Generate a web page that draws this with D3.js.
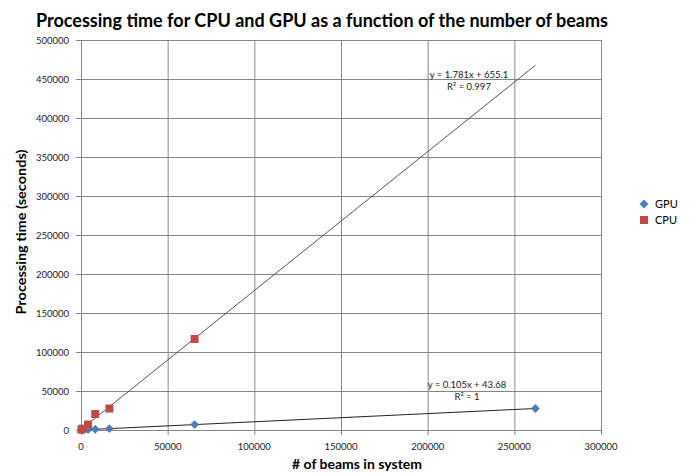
<!DOCTYPE html>
<html>
<head>
<meta charset="utf-8">
<script src="https://cdn.jsdelivr.net/npm/d3@7"></script>
<style>
  body { margin: 0; background: #fff; }
  text { font-family: Lato, "Open Sans", sans-serif; }
</style>
</head>
<body>
<div id="chart"></div>
<script>
var width = 691,
    height = 474;

// beams in system
var gpuBeams = [256, 1024, 4096, 8192, 16384, 65536, 262144];
var gpuTime  = [80, 160, 450, 900, 1750, 6900, 27600];

var cpuBeams = [256, 1024, 4096, 8192, 16384, 65536];
var cpuTime  = [500, 1800, 7000, 20500, 27500, 116700];

// trendlines (linear fit shown in the chart)
var gpuFit = {slope: 0.105, icpt: 43.68, label: "y = 0.105x + 43.68", r2: "R\u00b2 = 1"};
var cpuFit = {slope: 1.781, icpt: 655.1, label: "y = 1.781x + 655.1", r2: "R\u00b2 = 0.997"};

var xTicks = [0, 50000, 100000, 150000, 200000, 250000, 300000];
var yTicks = [0, 50000, 100000, 150000, 200000, 250000, 300000, 350000, 400000, 450000, 500000];

var margin = {top: 40, right: 90, bottom: 44, left: 81};

var svg = d3.select("#chart").append("svg")
    .attr("width", width)
    .attr("height", height);

var x = d3.scaleLinear().domain([0, 300000]).range([81, 601]);
var y = d3.scaleLinear().domain([0, 500000]).range([430, 40]);

var gridColor = "#868686";

// gridlines
svg.append("g").selectAll("line.h")
  .data(yTicks)
  .enter().append("line")
    .attr("x1", x(0) - 5).attr("x2", x(300000))
    .attr("y1", d => y(d) + 0.5).attr("y2", d => y(d) + 0.5)
    .style("stroke", gridColor).style("stroke-width", 1);

svg.append("g").selectAll("line.v")
  .data(xTicks)
  .enter().append("line")
    .attr("x1", d => x(d) + 0.5).attr("x2", d => x(d) + 0.5)
    .attr("y1", y(500000)).attr("y2", y(0) + 5)
    .style("stroke", gridColor).style("stroke-width", 1);

// tick labels
svg.append("g").selectAll("text")
  .data(yTicks)
  .enter().append("text")
    .attr("x", 69)
    .attr("y", d => y(d) + 3.5)
    .attr("text-anchor", "end")
    .style("font-size", "9.5px")
    .style("fill", "#222")
    .text(d => d);

svg.append("g").selectAll("text")
  .data(xTicks)
  .enter().append("text")
    .attr("x", d => x(d))
    .attr("y", 450)
    .attr("text-anchor", "middle")
    .style("font-size", "9.5px")
    .style("fill", "#222")
    .text(d => d);

// trendlines
function trend(fit, color) {
  var xs = [0, 262144];
  svg.append("line")
    .attr("x1", x(xs[0])).attr("y1", y(fit.slope * xs[0] + fit.icpt))
    .attr("x2", x(xs[1])).attr("y2", y(fit.slope * xs[1] + fit.icpt))
    .style("stroke", color).style("stroke-width", 1);
}
trend(cpuFit, "#555");
trend(gpuFit, "#222");

// GPU points (diamonds)
svg.append("g").selectAll("path")
  .data(gpuBeams)
  .enter().append("path")
    .attr("d", d3.symbol().type(d3.symbolDiamond2).size(50))
    .attr("transform", (d, i) => "translate(" + x(d) + "," + y(gpuTime[i]) + ")")
    .style("fill", "#4a7ebb");

// CPU points (squares)
svg.append("g").selectAll("rect")
  .data(cpuBeams)
  .enter().append("rect")
    .attr("x", d => x(d) - 4)
    .attr("y", (d, i) => y(cpuTime[i]) - 4)
    .attr("width", 8).attr("height", 8)
    .style("fill", "#be4b48");

// equation labels
function eqn(fit, cx, cy) {
  svg.append("text")
    .attr("x", cx).attr("y", cy)
    .attr("text-anchor", "middle")
    .style("font-size", "9.5px")
    .style("fill", "#222")
    .text(fit.label);
  svg.append("text")
    .attr("x", cx).attr("y", cy + 11.5)
    .attr("text-anchor", "middle")
    .style("font-size", "9.5px")
    .style("fill", "#222")
    .text(fit.r2);
}
eqn(cpuFit, 469, 78);
eqn(gpuFit, 467, 388);

// title
svg.append("text")
  .attr("x", 322).attr("y", 27)
  .attr("text-anchor", "middle")
  .attr("textLength", 572)
  .attr("lengthAdjust", "spacingAndGlyphs")
  .style("font-size", "18px")
  .style("font-weight", "bold")
  .text("Processing time for CPU and GPU as a function of the number of beams");

// axis titles
svg.append("text")
  .attr("transform", "translate(26,232) rotate(-90)")
  .attr("text-anchor", "middle")
  .attr("textLength", 165)
  .attr("lengthAdjust", "spacingAndGlyphs")
  .style("font-size", "13.5px")
  .style("font-weight", "bold")
  .text("Processing time (seconds)");

svg.append("text")
  .attr("x", 357).attr("y", 469)
  .attr("text-anchor", "middle")
  .attr("textLength", 130)
  .attr("lengthAdjust", "spacingAndGlyphs")
  .style("font-size", "13.5px")
  .style("font-weight", "bold")
  .text("# of beams in system");

// legend
var legend = svg.append("g");
legend.append("path")
  .attr("d", d3.symbol().type(d3.symbolDiamond2).size(50))
  .attr("transform", "translate(644,204)")
  .style("fill", "#4a7ebb");
legend.append("text")
  .attr("x", 655).attr("y", 208)
  .style("font-size", "11px")
  .text("GPU");
legend.append("rect")
  .attr("x", 640).attr("y", 216)
  .attr("width", 8).attr("height", 8)
  .style("fill", "#be4b48");
legend.append("text")
  .attr("x", 655).attr("y", 224)
  .style("font-size", "11px")
  .text("CPU");
</script>
</body>
</html>
